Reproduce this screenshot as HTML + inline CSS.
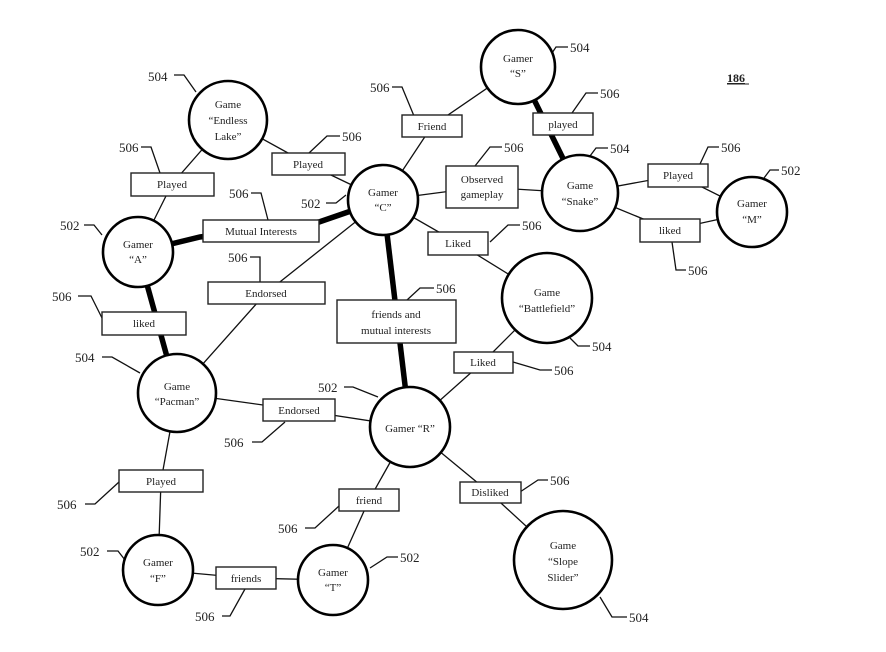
<!DOCTYPE html>
<html><head><meta charset="utf-8"><style>
html,body{margin:0;padding:0;background:#fff;}
svg{display:block;}
text{font-family:"Liberation Serif",serif;fill:#222;}
.n{font-size:11px;text-anchor:middle;}
.l{font-size:13px;}
.e{stroke:#111;stroke-width:1.3;fill:none;}
.t{stroke:#000;stroke-width:5.5;fill:none;}
.c{stroke:#000;stroke-width:2.6;fill:#fff;}
.b{stroke:#222;stroke-width:1.4;fill:#fff;}
.ld{stroke:#111;stroke-width:1.3;fill:none;}
</style></head><body>
<svg width="886" height="652" viewBox="0 0 886 652" xmlns="http://www.w3.org/2000/svg">
<!-- thin edges -->
<polyline class="e" points="228,120 172,184 138,252"/>
<polyline class="e" points="228,120 308,164 383,200"/>
<polyline class="e" points="383,200 432,126 518,67"/>
<polyline class="e" points="383,200 482,187 580,193"/>
<polyline class="e" points="383,200 458,243 547,298"/>
<polyline class="e" points="383,200 266,293 177,393"/>
<polyline class="e" points="580,193 678,175 752,212"/>
<polyline class="e" points="580,193 670,230 752,212"/>
<polyline class="e" points="547,298 483,362 410,427"/>
<polyline class="e" points="177,393 299,410 410,427"/>
<polyline class="e" points="177,393 161,481 158,570"/>
<polyline class="e" points="410,427 369,500 333,580"/>
<polyline class="e" points="410,427 490,493 563,560"/>
<polyline class="e" points="158,570 246,578 333,580"/>
<!-- thick edges -->
<polyline class="t" points="138,252 200,237 319,222 383,200"/>
<line class="t" x1="138" y1="252" x2="177" y2="393"/>
<line class="t" x1="383" y1="200" x2="410" y2="427"/>
<line class="t" x1="518" y1="67" x2="580" y2="193"/>
<!-- leaders -->
<polyline class="ld" points="174,75 184,75 196,92"/>
<polyline class="ld" points="568,47 556,47 550,56"/>
<polyline class="ld" points="392,87 402,87 414,116"/>
<polyline class="ld" points="598,93 586,93 572,113"/>
<polyline class="ld" points="141,147 151,147 160,173"/>
<polyline class="ld" points="340,136 327,136 309,153"/>
<polyline class="ld" points="502,147 490,147 475,166"/>
<polyline class="ld" points="608,148 596,148 590,156"/>
<polyline class="ld" points="719,147 708,147 700,164"/>
<polyline class="ld" points="779,170 770,170 764,178"/>
<polyline class="ld" points="326,203 336,203 346,195"/>
<polyline class="ld" points="251,193 261,193 268,220"/>
<polyline class="ld" points="520,225 508,225 490,242"/>
<polyline class="ld" points="686,270 676,270 672,242"/>
<polyline class="ld" points="84,225 94,225 102,235"/>
<polyline class="ld" points="250,257 260,257 260,282"/>
<polyline class="ld" points="434,288 420,288 407,300"/>
<polyline class="ld" points="78,296 91,296 102,318"/>
<polyline class="ld" points="590,346 578,346 570,338"/>
<polyline class="ld" points="552,370 540,370 513,362"/>
<polyline class="ld" points="102,357 112,357 140,373"/>
<polyline class="ld" points="344,387 353,387 378,397"/>
<polyline class="ld" points="252,442 262,442 285,422"/>
<polyline class="ld" points="548,480 538,480 520,492"/>
<polyline class="ld" points="85,504 95,504 119,482"/>
<polyline class="ld" points="305,528 315,528 339,506"/>
<polyline class="ld" points="107,551 118,551 125,560"/>
<polyline class="ld" points="398,557 387,557 370,568"/>
<polyline class="ld" points="222,616 230,616 245,589"/>
<polyline class="ld" points="627,617 612,617 600,597"/>
<!-- circles -->
<circle class="c" cx="228" cy="120" r="39"/>
<circle class="c" cx="383" cy="200" r="35"/>
<circle class="c" cx="138" cy="252" r="35"/>
<circle class="c" cx="518" cy="67" r="37"/>
<circle class="c" cx="580" cy="193" r="38"/>
<circle class="c" cx="752" cy="212" r="35"/>
<circle class="c" cx="547" cy="298" r="45"/>
<circle class="c" cx="177" cy="393" r="39"/>
<circle class="c" cx="410" cy="427" r="40"/>
<circle class="c" cx="563" cy="560" r="49"/>
<circle class="c" cx="158" cy="570" r="35"/>
<circle class="c" cx="333" cy="580" r="35"/>
<!-- boxes -->
<rect class="b" x="402" y="115" width="60" height="22"/>
<rect class="b" x="533" y="113" width="60" height="22"/>
<rect class="b" x="446" y="166" width="72" height="42"/>
<rect class="b" x="428" y="232" width="60" height="23"/>
<rect class="b" x="648" y="164" width="60" height="23"/>
<rect class="b" x="640" y="219" width="60" height="23"/>
<rect class="b" x="272" y="153" width="73" height="22"/>
<rect class="b" x="131" y="173" width="83" height="23"/>
<rect class="b" x="203" y="220" width="116" height="22"/>
<rect class="b" x="208" y="282" width="117" height="22"/>
<rect class="b" x="337" y="300" width="119" height="43"/>
<rect class="b" x="102" y="312" width="84" height="23"/>
<rect class="b" x="454" y="352" width="59" height="21"/>
<rect class="b" x="263" y="399" width="72" height="22"/>
<rect class="b" x="460" y="482" width="61" height="21"/>
<rect class="b" x="339" y="489" width="60" height="22"/>
<rect class="b" x="119" y="470" width="84" height="22"/>
<rect class="b" x="216" y="567" width="60" height="22"/>
<!-- node text -->
<text class="n" x="228" y="108">Game</text><text class="n" x="228" y="124">“Endless</text><text class="n" x="228" y="140">Lake”</text>
<text class="n" x="383" y="196">Gamer</text><text class="n" x="383" y="211">“C”</text>
<text class="n" x="138" y="248">Gamer</text><text class="n" x="138" y="263">“A”</text>
<text class="n" x="518" y="62">Gamer</text><text class="n" x="518" y="77">“S”</text>
<text class="n" x="580" y="189">Game</text><text class="n" x="580" y="205">“Snake”</text>
<text class="n" x="752" y="207">Gamer</text><text class="n" x="752" y="223">“M”</text>
<text class="n" x="547" y="296">Game</text><text class="n" x="547" y="312">“Battlefield”</text>
<text class="n" x="177" y="390">Game</text><text class="n" x="177" y="405">“Pacman”</text>
<text class="n" x="410" y="432">Gamer “R”</text>
<text class="n" x="563" y="549">Game</text><text class="n" x="563" y="565">“Slope</text><text class="n" x="563" y="581">Slider”</text>
<text class="n" x="158" y="566">Gamer</text><text class="n" x="158" y="582">“F”</text>
<text class="n" x="333" y="576">Gamer</text><text class="n" x="333" y="591">“T”</text>
<!-- box text -->
<text class="n" x="432" y="130">Friend</text>
<text class="n" x="563" y="128">played</text>
<text class="n" x="482" y="183">Observed</text><text class="n" x="482" y="198">gameplay</text>
<text class="n" x="458" y="247">Liked</text>
<text class="n" x="678" y="179">Played</text>
<text class="n" x="670" y="234">liked</text>
<text class="n" x="308" y="168">Played</text>
<text class="n" x="172" y="188">Played</text>
<text class="n" x="261" y="235">Mutual Interests</text>
<text class="n" x="266" y="297">Endorsed</text>
<text class="n" x="396" y="318">friends and</text><text class="n" x="396" y="334">mutual interests</text>
<text class="n" x="144" y="327">liked</text>
<text class="n" x="483" y="366">Liked</text>
<text class="n" x="299" y="414">Endorsed</text>
<text class="n" x="490" y="496">Disliked</text>
<text class="n" x="369" y="504">friend</text>
<text class="n" x="161" y="485">Played</text>
<text class="n" x="246" y="582">friends</text>
<!-- reference labels -->
<text class="l" x="148" y="81">504</text>
<text class="l" x="570" y="52">504</text>
<text class="l" x="370" y="92">506</text>
<text class="l" x="600" y="98">506</text>
<text class="l" x="119" y="152">506</text>
<text class="l" x="342" y="141">506</text>
<text class="l" x="504" y="152">506</text>
<text class="l" x="610" y="153">504</text>
<text class="l" x="721" y="152">506</text>
<text class="l" x="781" y="175">502</text>
<text class="l" x="301" y="208">502</text>
<text class="l" x="229" y="198">506</text>
<text class="l" x="522" y="230">506</text>
<text class="l" x="688" y="275">506</text>
<text class="l" x="60" y="230">502</text>
<text class="l" x="228" y="262">506</text>
<text class="l" x="436" y="293">506</text>
<text class="l" x="52" y="301">506</text>
<text class="l" x="592" y="351">504</text>
<text class="l" x="554" y="375">506</text>
<text class="l" x="75" y="362">504</text>
<text class="l" x="318" y="392">502</text>
<text class="l" x="224" y="447">506</text>
<text class="l" x="550" y="485">506</text>
<text class="l" x="57" y="509">506</text>
<text class="l" x="278" y="533">506</text>
<text class="l" x="80" y="556">502</text>
<text class="l" x="400" y="562">502</text>
<text class="l" x="195" y="621">506</text>
<text class="l" x="629" y="622">504</text>
<text x="727" y="82" style="font-size:12px;font-weight:bold;text-decoration:underline;">186</text>
<line x1="727" y1="84" x2="749" y2="84" stroke="#222" stroke-width="1"/>
</svg>
</body></html>
